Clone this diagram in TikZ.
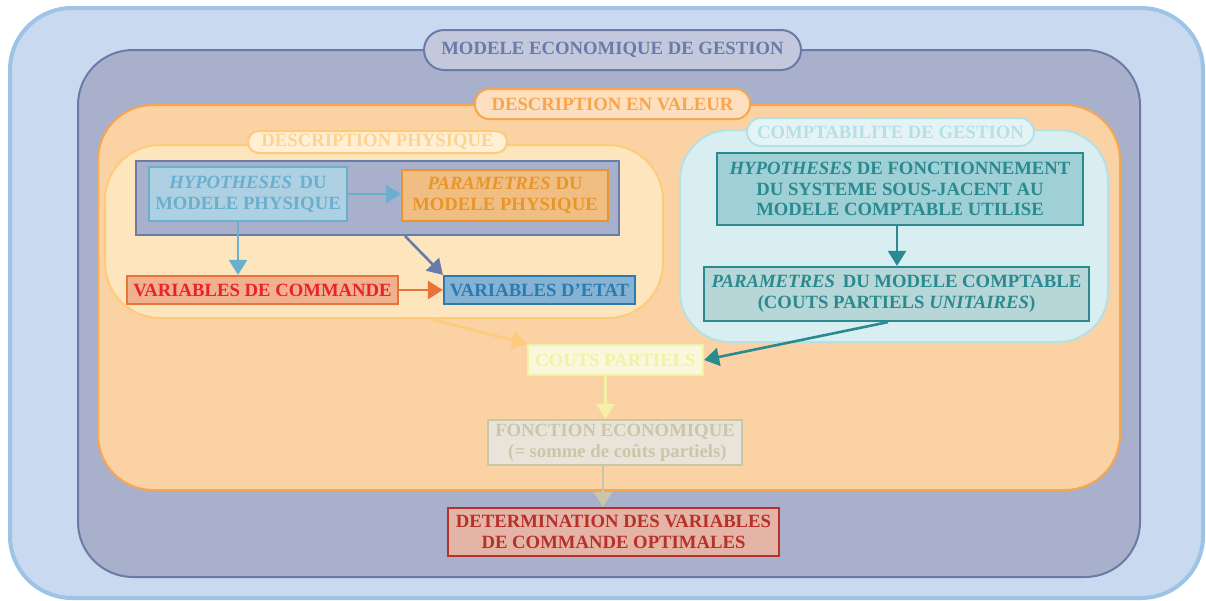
\documentclass[tikz,border=0pt]{standalone}
\usepackage{fontspec}
\setmainfont{Liberation Serif}
\usetikzlibrary{arrows.meta}

% palette
\definecolor{outerfill}{HTML}{C9D9F0}
\definecolor{outerline}{HTML}{9DC3E6}
\definecolor{navyfill}{HTML}{A9B0CC}
\definecolor{navyline}{HTML}{6A7BA8}
\definecolor{navypill}{HTML}{C3C8DC}
\definecolor{orfill}{HTML}{FBD2A4}
\definecolor{orline}{HTML}{F6A64E}
\definecolor{orpill}{HTML}{FDDFBF}
\definecolor{phyfill}{HTML}{FDE5BD}
\definecolor{phyline}{HTML}{FDCB7A}
\definecolor{phypill}{HTML}{FEEFD6}
\definecolor{phytext}{HTML}{FDD48F}
\definecolor{hypfill}{HTML}{ADD0E2}
\definecolor{hypline}{HTML}{6BAFCE}
\definecolor{parfill}{HTML}{F0BE82}
\definecolor{parline}{HTML}{E8962A}
\definecolor{comfill}{HTML}{F1B08E}
\definecolor{comline}{HTML}{E8743A}
\definecolor{comtext}{HTML}{E8242A}
\definecolor{etafill}{HTML}{86B3D3}
\definecolor{etaline}{HTML}{2B7BAF}
\definecolor{cptfill}{HTML}{D8EEF0}
\definecolor{cptline}{HTML}{B6E0E4}
\definecolor{cptpill}{HTML}{E4F3F5}
\definecolor{hpffill}{HTML}{9ED0D6}
\definecolor{teal}{HTML}{2A8A90}
\definecolor{pcfill}{HTML}{B6D6D8}
\definecolor{cpfill}{HTML}{F8F8DC}
\definecolor{cpline}{HTML}{F4F0A6}
\definecolor{fefill}{HTML}{E8E4DA}
\definecolor{feline}{HTML}{CBC6A8}
\definecolor{detfill}{HTML}{E4B4A6}
\definecolor{detline}{HTML}{B8302A}

\tikzset{
  lbl/.style={font=\fontsize{18.7}{20.8}\selectfont\bfseries, align=center, inner sep=0pt},
  zone/.style={lbl, rounded corners=#1},
  pill/.style={lbl, rounded corners=14pt},
  card/.style={lbl, line width=2.2pt},
  link/.style={line width=2.6pt, draw=#1, -{Triangle[length=15pt,width=18pt]}},
}

\begin{document}
\begin{tikzpicture}[x=1pt,y=-1pt]
\useasboundingbox (0,0) rectangle (1206,600);

% nested containers
\node[zone=62pt, fill=outerfill, draw=outerline, line width=4pt,
      minimum width=1193pt, minimum height=590pt] (outer) at (606.5,303) {};
\node[zone=55pt, fill=navyfill, draw=navyline, line width=2pt,
      minimum width=1062pt, minimum height=527pt] (gestion) at (609,313.5) {};
\node[pill, rounded corners=20pt, fill=navypill, draw=navyline, line width=2pt, text=navyline,
      minimum width=377pt, minimum height=40pt] (tgestion) at (612.5,50) {MODELE ECONOMIQUE DE GESTION};

\node[zone=55pt, fill=orfill, draw=orline, line width=2pt,
      minimum width=1022pt, minimum height=385pt] (valeur) at (609,297.5) {};
\node[pill, fill=orpill, draw=orline, line width=2pt, text=orline,
      minimum width=275pt, minimum height=30pt] (tvaleur) at (612.5,104) {DESCRIPTION EN VALEUR};

% physical description
\node[zone=55pt, fill=phyfill, draw=phyline, line width=2pt,
      minimum width=558pt, minimum height=173pt] (physique) at (384,231.5) {};
\node[pill, rounded corners=11pt, fill=phypill, draw=phyline, line width=2pt, text=phytext,
      minimum width=259pt, minimum height=22pt] (tphysique) at (377.5,142) {DESCRIPTION PHYSIQUE};
\node[lbl, fill=navyfill, draw=navyline, line width=2pt,
      minimum width=483pt, minimum height=74pt] (modphy) at (377.5,198) {};
\node[card, fill=hypfill, draw=hypline, text=hypline,
      minimum width=198pt, minimum height=54pt] (hyp) at (248,194)
      {\textit{HYPOTHESES}\, DU\\MODELE PHYSIQUE};
\node[card, fill=parfill, draw=parline, text=parline,
      minimum width=206pt, minimum height=51pt] (par) at (505,195.5)
      {\textit{PARAMETRES} DU\\MODELE PHYSIQUE};
\node[card, fill=comfill, draw=comline, text=comtext,
      minimum width=271pt, minimum height=28pt] (vcom) at (262.5,290) {VARIABLES DE COMMANDE};
\node[card, fill=etafill, draw=etaline, text=etaline,
      minimum width=191pt, minimum height=28pt] (veta) at (539.5,290) {VARIABLES D’ETAT};

% cost accounting
\node[zone=50pt, fill=cptfill, draw=cptline, line width=2pt,
      minimum width=428pt, minimum height=212pt] (compta) at (894,236) {};
\node[pill, fill=cptpill, draw=cptline, line width=2pt, text=cptline,
      minimum width=287pt, minimum height=28pt] (tcompta) at (890.5,132) {COMPTABILITE DE GESTION};
\node[card, fill=hpffill, draw=teal, text=teal,
      minimum width=366pt, minimum height=72pt] (hypf) at (900,189)
      {\textit{HYPOTHESES} DE FONCTIONNEMENT\\DU SYSTEME SOUS-JACENT AU\\MODELE COMPTABLE UTILISE};
\node[card, fill=pcfill, draw=teal, text=teal,
      minimum width=385pt, minimum height=54pt] (parc) at (896.5,294)
      {\textit{PARAMETRES}\, DU MODELE COMPTABLE\\(COUTS PARTIELS \textit{UNITAIRES})};

% economic chain
\node[card, fill=cpfill, draw=cpline, text=cpline,
      minimum width=175pt, minimum height=30pt] (couts) at (615.5,360) {COUTS PARTIELS};
\node[card, fill=fefill, draw=feline, text=feline,
      minimum width=254pt, minimum height=45pt] (fonc) at (615,442.5)
      {FONCTION ECONOMIQUE\\\ (= somme de coûts partiels)};
\node[card, fill=detfill, draw=detline, text=detline,
      minimum width=331pt, minimum height=48pt] (det) at (613.5,532)
      {DETERMINATION DES VARIABLES\\DE COMMANDE OPTIMALES};

% connectors
\draw[link=hypline] (hyp.east) -- (hyp.east -| par.west);
\draw[link=hypline] ([xshift=-10pt]hyp.south) -- ([xshift=-10pt]hyp.south |- vcom.north);
\draw[link=navyline] ([xshift=27.5pt]modphy.south) -- (veta.north west);
\draw[link=comline] (vcom.east) -- (veta.west);
\draw[link=teal] ([xshift=-3pt]hypf.south) -- ([xshift=-3pt]hypf.south |- parc.north);
\draw[link=phyline] ([xshift=46pt]physique.south) -- (couts.north west);
\draw[link=teal] ([xshift=-8.5pt]parc.south) -- (couts.east);
\draw[link=cpline] ([xshift=-10pt]couts.south) -- ([xshift=-10pt]couts.south |- fonc.north);
\draw[link=feline] ([xshift=-12pt]fonc.south) -- ([xshift=-12pt]fonc.south |- det.north);
\end{tikzpicture}
\end{document}
